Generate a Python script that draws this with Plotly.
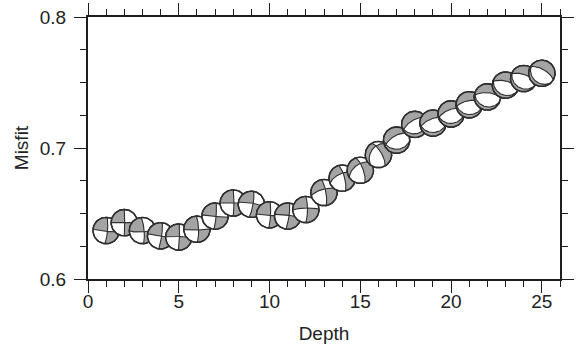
import numpy as np
import plotly.graph_objects as go

# ---------------- data ----------------
depth = list(range(1, 26))
misfit = [0.637, 0.643, 0.637, 0.633, 0.632, 0.638, 0.648, 0.658, 0.657, 0.649,
          0.648, 0.653, 0.666, 0.677, 0.683, 0.695, 0.706, 0.718, 0.719, 0.726,
          0.733, 0.739, 0.748, 0.753, 0.757]
# focal mechanism parameters (strike, dip, rake) per depth, degrees
strike = [5, 0, 355, 8, 2, 358, 5, 0, 10, 3,
          8, 0, 350, 345, 340, 330, 240, 240, 250, 250,
          260, 275, 285, 290, 300]
dip = [82, 88, 80, 84, 86, 80, 84, 86, 80, 84,
       82, 80, 78, 75, 72, 70, 62, 62, 62, 62,
       64, 64, 65, 65, 65]
rake = [175, 180, 172, 178, -176, 175, 178, 180, -172, 176,
        -174, -170, -158, -150, -140, -125, -105, -100, -100, -98,
        -97, -96, -95, -95, -95]

x_tickvals = [0, 5, 10, 15, 20, 25]
y_tickvals = [0.6, 0.7, 0.8]
y_ticktext = ["0.6", "0.7", "0.8"]
x_range = [0, 26]
y_range = [0.6, 0.8]

# ---------------- layout geometry ----------------
W, H = 580, 348
ML, MR, MT, MB = 88, 20, 17, 69
ball_px = 13.2  # beachball radius in pixels
rx = ball_px * (x_range[1] - x_range[0]) / (W - ML - MR)
ry = ball_px * (y_range[1] - y_range[0]) / (H - MT - MB)

GRAY = "#a4a4a4"
EDGE = "#2e2e2e"


def sdr_vectors(s, d, r):
    s, d, r = np.radians([s, d, r])
    n = np.array([-np.sin(d) * np.sin(s), np.sin(d) * np.cos(s), -np.cos(d)])
    u = np.array([np.cos(r) * np.cos(s) + np.sin(r) * np.cos(d) * np.sin(s),
                  np.cos(r) * np.sin(s) - np.sin(r) * np.cos(d) * np.cos(s),
                  -np.sin(r) * np.sin(d)])
    return n, u


def proj(v):
    v = np.asarray(v, float)
    if v[2] < -1e-9:
        v = -v
    p = np.arcsin(np.clip(v[2], 0.0, 1.0))
    az = np.arctan2(v[1], v[0])
    rr = np.sqrt(2) * np.sin((np.pi / 2 - p) / 2)
    return rr * np.sin(az), rr * np.cos(az)


def half_curves(nrm, B):
    h = np.cross(nrm, [0.0, 0.0, 1.0])
    h /= np.linalg.norm(h)
    w = np.cross(nrm, h)
    w /= np.linalg.norm(w)
    if w[2] < 0:
        w = -w
    tB = float(np.clip(np.arctan2(B @ w, B @ h), 0, np.pi))
    out = []
    for t0, hv in ((0.0, h), (np.pi, -h)):
        ts = np.linspace(t0, tB, 50)
        pts = [proj(np.cos(t) * h + np.sin(t) * w) for t in ts]
        az = np.arctan2(hv[1], hv[0]) % (2 * np.pi)
        out.append((az, pts))
    return out


def gray_polygons(s, d, r):
    n, u = sdr_vectors(s, d, r)
    B = np.cross(n, u)
    B /= np.linalg.norm(B)
    if B[2] < 0:
        B = -B
    halves = half_curves(n, B) + half_curves(u, B)
    halves.sort(key=lambda q: q[0])
    polys = []
    for i in range(4):
        a0, c0 = halves[i]
        a1, c1 = halves[(i + 1) % 4]
        if a1 <= a0:
            a1 += 2 * np.pi
        arc = [(np.sin(a), np.cos(a)) for a in np.linspace(a0, a1, 40)]
        poly = list(reversed(c0)) + arc + list(c1)
        mid = 0.5 * (a0 + a1)
        p = np.pi / 2 - 2 * np.arcsin(0.95 / np.sqrt(2))
        xv = np.array([np.cos(p) * np.cos(mid), np.cos(p) * np.sin(mid), np.sin(p)])
        if (n @ xv) * (u @ xv) > 0:
            polys.append(poly)
    return polys


fig = go.Figure()
theta = np.linspace(0, 2 * np.pi, 90)
for dep, mf, s, d, r in zip(depth, misfit, strike, dip, rake):
    cx = dep + rx * np.sin(theta)
    cy = mf + ry * np.cos(theta)
    fig.add_trace(go.Scatter(x=cx, y=cy, mode="lines", fill="toself",
                             fillcolor="white", line=dict(color=EDGE, width=1.4),
                             hoverinfo="skip", showlegend=False))
    gx, gy = [], []
    for poly in gray_polygons(s, d, r):
        for ex, ny in poly:
            gx.append(dep + rx * ex)
            gy.append(mf + ry * ny)
        gx.append(None)
        gy.append(None)
    fig.add_trace(go.Scatter(x=gx, y=gy, mode="lines", fill="toself",
                             fillcolor=GRAY, line=dict(color=EDGE, width=1.1),
                             hoverinfo="skip", showlegend=False))
    fig.add_trace(go.Scatter(x=cx, y=cy, mode="lines",
                             line=dict(color=EDGE, width=1.4),
                             hoverinfo="skip", showlegend=False))

FONT = "Liberation Sans, Arial, Helvetica, sans-serif"
axis_common = dict(showline=True, linewidth=2, linecolor="#1e1e1e", mirror="ticks",
                   ticks="outside", ticklen=12, tickwidth=1.2, tickcolor="#1e1e1e",
                   showgrid=False, zeroline=False, automargin=False,
                   tickfont=dict(family=FONT, size=19, color="#222"))
fig.update_xaxes(range=x_range, tickvals=x_tickvals,
                 minor=dict(dtick=1, tick0=0, ticks="outside", ticklen=6,
                            tickwidth=1, tickcolor="#1e1e1e"),
                 title=dict(text="Depth", font=dict(family=FONT, size=19, color="#222"),
                            standoff=16),
                 ticklabelstandoff=-8,
                 **axis_common)
fig.update_yaxes(range=y_range, tickvals=y_tickvals, ticktext=y_ticktext,
                 minor=dict(dtick=0.025, tick0=0.6, ticks="outside", ticklen=6,
                            tickwidth=1, tickcolor="#1e1e1e"),
                 title=dict(text="Misfit", font=dict(family=FONT, size=19, color="#222"),
                            standoff=6),
                 ticklabelstandoff=4,
                 **axis_common)
fig.update_layout(width=W, height=H, margin=dict(l=ML, r=MR, t=MT, b=MB),
                  paper_bgcolor="white", plot_bgcolor="white",
                  font=dict(family=FONT, size=19, color="#222"))
fig.write_html("out.html")
